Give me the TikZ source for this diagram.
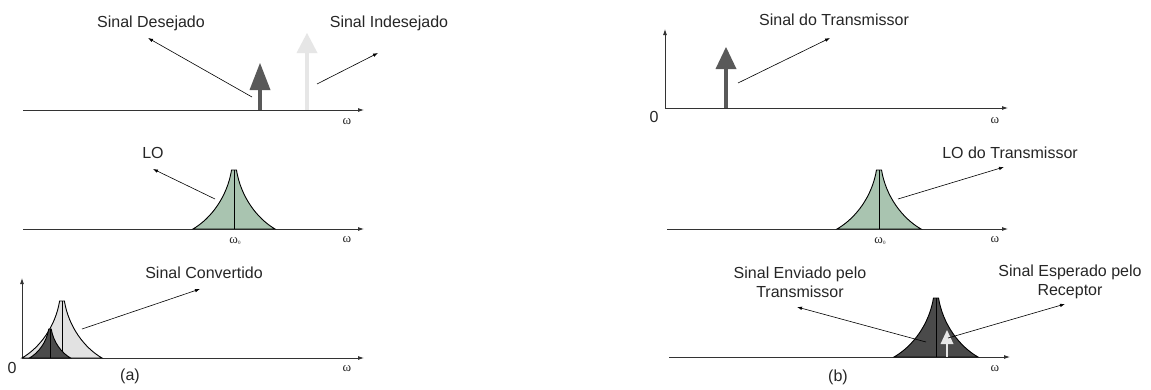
\documentclass[tikz,border=0pt]{standalone}
\usepackage{fontspec}
\setmainfont{Liberation Sans}
\newfontfamily\omegafont{Liberation Serif}
\usetikzlibrary{arrows.meta}
\definecolor{specAxis}{HTML}{333333}
\definecolor{specDark}{HTML}{595959}
\definecolor{specShade}{HTML}{4A4A4A}
\definecolor{specLight}{HTML}{E6E6E6}
\definecolor{specPale}{HTML}{E2E2E2}
\definecolor{specGreen}{HTML}{A9C4B0}
% peak: fill, centre, half width, top, base
\newcommand{\specpeak}[5]{%
  \filldraw[peakline,fill=#1] ({#2-#3},#5) .. controls ({#2-0.557*#3},{#5-0.18*(#5-#4)}) and ({#2-0.164*#3},{#5-0.55*(#5-#4)}) .. ({#2-0.06*#3},#4)
    -- ({#2+0.06*#3},#4) .. controls ({#2+0.164*#3},{#5-0.55*(#5-#4)}) and ({#2+0.557*#3},{#5-0.18*(#5-#4)}) .. ({#2+#3},#5) -- cycle;
  \draw[peakline] (#2,#4) -- (#2,#5);}
% tone: colour, x, apex, head base, foot, half width, shaft width
\newcommand{\spectone}[7]{%
  \fill[#1] (#2-#6,#4) -- (#2,#3) -- (#2+#6,#4) -- cycle;
  \draw[#1,line width=#7] (#2,#4) -- (#2,#5);}
\newcommand{\wzero}{ω\raisebox{-1pt}{\fontsize{5}{6}\selectfont 0}}

\begin{document}
\begin{tikzpicture}[x=1pt,y=-1pt,>=Latex,line cap=butt,line join=miter]
\path[fill=white] (0,0) rectangle (1151,389);
\tikzset{axisline/.style={draw=specAxis,line width=0.8pt,-{Latex[length=6pt,width=4pt]}},
  pointer/.style={draw=black,line width=0.6pt,-{Latex[length=5pt,width=3.5pt]}},
  peakline/.style={draw=black,line width=0.9pt},
  label/.style={font=\fontsize{16}{19}\selectfont,align=center,text=black!85},
  freq/.style={font=\omegafont\fontsize{13}{15}\selectfont,text=black!85}}

% (a) top row
\coordinate (a1s) at (23,110); \coordinate (a1e) at (364,110);
\draw[axisline] (a1s) -- (a1e);
\node[freq] (wa1) at (347,122) {ω};
\spectone{specDark}{260}{63}{90}{110}{10.5}{4pt}
\spectone{specLight}{307}{33}{53}{110}{10.5}{4pt}
\node[label] (lblWanted) at (151,23) {Sinal Desejado};
\node[label] (lblUnwanted) at (389,23) {Sinal Indesejado};
\coordinate (wantedFrom) at (252,97); \coordinate (wantedTo) at (148,38);
\coordinate (unwantedFrom) at (317,84); \coordinate (unwantedTo) at (378,53);
\draw[pointer] (wantedFrom) -- (wantedTo);
\draw[pointer] (unwantedFrom) -- (unwantedTo);

% (a) middle row
\coordinate (a2s) at (23,229); \coordinate (a2e) at (364,229);
\draw[axisline] (a2s) -- (a2e);
\specpeak{specGreen}{234}{41}{170}{229}
\node[freq] (wa0) at (235,241) {\wzero};
\node[freq] (wa2) at (347,240) {ω};
\node[label] (lblLO) at (153,153) {LO};
\coordinate (loFrom) at (215,199); \coordinate (loTo) at (153,169);
\draw[pointer] (loFrom) -- (loTo);

% (a) bottom row
\coordinate (a3o) at (22,358); \coordinate (a3e) at (364,358); \coordinate (a3v) at (22,278);
\draw[axisline] (a3o) -- (a3e);
\draw[axisline] (a3o) -- (a3v);
\specpeak{specPale}{62}{40}{301}{358}
\specpeak{specShade}{50}{20.5}{329}{358}
\node[label] (zeroA) at (12,368) {0};
\node[freq] (wa3) at (347,369) {ω};
\node[label] (lblConverted) at (204,273) {Sinal Convertido};
\coordinate (convFrom) at (82,329); \coordinate (convTo) at (200,289);
\draw[pointer] (convFrom) -- (convTo);
\node[label] (capA) at (130,376) {(a)};

% (b) top row
\coordinate (b1o) at (665,108); \coordinate (b1e) at (1008,108); \coordinate (b1v) at (665,29);
\draw[axisline] (b1o) -- (b1e);
\draw[axisline] (b1o) -- (b1v);
\node[label] (zeroB) at (654,117) {0};
\node[freq] (wb1) at (995,121) {ω};
\spectone{specDark}{726}{47}{69}{108}{10.5}{4pt}
\node[label] (lblTxSignal) at (834,20) {Sinal do Transmissor};
\coordinate (txFrom) at (738,83); \coordinate (txTo) at (830,38);
\draw[pointer] (txFrom) -- (txTo);

% (b) middle row
\coordinate (b2s) at (667,229); \coordinate (b2e) at (1008,229);
\draw[axisline] (b2s) -- (b2e);
\specpeak{specGreen}{879}{42}{170}{229}
\node[freq] (wb0) at (880,241) {\wzero};
\node[freq] (wb2) at (995,240) {ω};
\node[label] (lblTxLO) at (1010,153) {LO do Transmissor};
\coordinate (txloFrom) at (898,199); \coordinate (txloTo) at (1004,167);
\draw[pointer] (txloFrom) -- (txloTo);

% (b) bottom row
\coordinate (b3s) at (669,357); \coordinate (b3e) at (1010,357);
\draw[axisline] (b3s) -- (b3e);
\specpeak{specShade}{936}{42}{298}{357}
\spectone{specLight}{947}{330}{344}{357}{6.5}{2.6pt}
\node[freq] (wb3) at (995,369) {ω};
\node[label] (lblSent) at (800,282) {Sinal Enviado pelo\\Transmissor};
\node[label] (lblExpected) at (1070,282) {Sinal Esperado pelo\\Receptor};
\coordinate (sentFrom) at (926,342); \coordinate (sentTo) at (797,307);
\coordinate (expFrom) at (948,338); \coordinate (expTo) at (1065,304);
\draw[pointer] (sentFrom) -- (sentTo);
\draw[pointer] (expFrom) -- (expTo);
\node[label] (capB) at (838,377) {(b)};
\end{tikzpicture}
\end{document}
